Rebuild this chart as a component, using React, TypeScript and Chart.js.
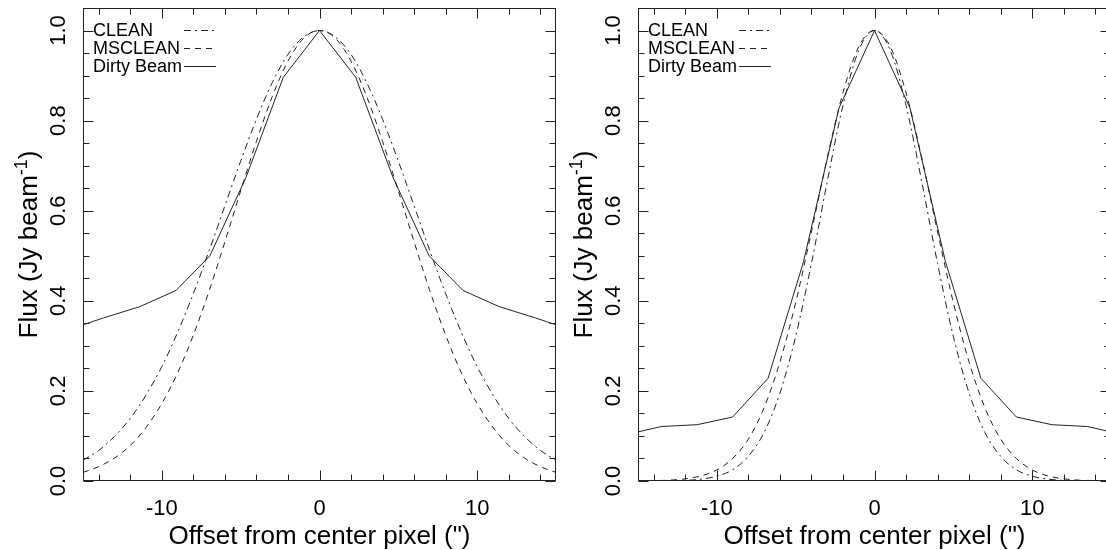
import React, { useEffect, useRef } from 'react';
import { Chart, registerables } from 'chart.js';

Chart.register(...registerables);

// ---------- data ----------
const offsets = [-15, -14, -13, -12, -11, -10, -9, -8, -7, -6, -5, -4, -3, -2, -1, 0, 1, 2, 3, 4, 5, 6, 7, 8, 9, 10, 11, 12, 13, 14, 15];

// left panel
const leftClean = [0.046, 0.068, 0.099, 0.139, 0.191, 0.254, 0.330, 0.416, 0.511, 0.611, 0.710, 0.803, 0.884, 0.947, 0.986, 1.0, 0.986, 0.947, 0.884, 0.803, 0.710, 0.611, 0.511, 0.416, 0.330, 0.254, 0.191, 0.139, 0.099, 0.068, 0.046];
const leftMsclean = [0.019, 0.032, 0.051, 0.079, 0.119, 0.172, 0.240, 0.324, 0.422, 0.531, 0.644, 0.754, 0.853, 0.932, 0.983, 1.0, 0.983, 0.932, 0.853, 0.754, 0.644, 0.531, 0.422, 0.324, 0.240, 0.172, 0.119, 0.079, 0.051, 0.032, 0.019];
const leftDirtyOffsets = [-16, -13.7, -11.4, -9.1, -6.95, -4.65, -2.3, 0, 2.3, 4.65, 6.95, 9.1, 11.4, 13.7, 16];
const leftDirty = [0.335, 0.362, 0.387, 0.423, 0.50, 0.675, 0.896, 1.0, 0.896, 0.675, 0.50, 0.423, 0.387, 0.362, 0.335];

// right panel
const rightClean = [0.0, 0.0001, 0.0005, 0.0014, 0.0041, 0.0106, 0.025, 0.055, 0.108, 0.195, 0.321, 0.483, 0.664, 0.834, 0.956, 1.0, 0.956, 0.834, 0.664, 0.483, 0.321, 0.195, 0.108, 0.055, 0.025, 0.0106, 0.0041, 0.0014, 0.0005, 0.0001, 0.0];
const rightMsclean = [0.0002, 0.0007, 0.0019, 0.0048, 0.0113, 0.0246, 0.050, 0.093, 0.163, 0.264, 0.396, 0.553, 0.717, 0.862, 0.964, 1.0, 0.964, 0.862, 0.717, 0.553, 0.396, 0.264, 0.163, 0.093, 0.050, 0.0246, 0.0113, 0.0048, 0.0019, 0.0007, 0.0002];
const rightDirtyOffsets = [-15.75, -13.5, -11.25, -9, -6.75, -4.5, -2.25, 0, 2.25, 4.5, 6.75, 9, 11.25, 13.5, 15.75];
const rightDirty = [0.103, 0.121, 0.125, 0.142, 0.228, 0.487, 0.828, 1.0, 0.828, 0.487, 0.228, 0.142, 0.125, 0.121, 0.103];

// axes
const xMajorTicks = [-10, 0, 10];
const xMinorTicks = [-14, -12, -8, -6, -4, -2, 2, 4, 6, 8, 12, 14];
const yMajorTicks = [0, 0.2, 0.4, 0.6, 0.8, 1.0];
const yMinorTicks = [0.05, 0.1, 0.15, 0.25, 0.3, 0.35, 0.45, 0.5, 0.55, 0.65, 0.7, 0.75, 0.85, 0.9, 0.95];
const yTickLabels = ['0.0', '0.2', '0.4', '0.6', '0.8', '1.0'];
const xTickLabels = ['-10', '0', '10'];
const xTitle = 'Offset from center pixel (")';
const yTitleMain = 'Flux (Jy beam';
const yTitleSup = '-1';
const yTitleEnd = ')';
const seriesNames = ['CLEAN', 'MSCLEAN', 'Dirty Beam'];

const FONT = '"Liberation Sans", Arial, Helvetica, sans-serif';
const INK = '#222';

const framePlugin = {
  id: 'rframe',
  afterDatasetsDraw(chart: any) {
    const { ctx, chartArea: a, scales } = chart;
    const xs = scales.x;
    const ys = scales.y;
    ctx.save();
    ctx.strokeStyle = INK;
    ctx.lineWidth = 1;
    ctx.setLineDash([]);
    const L = Math.round(a.left) + 0.5;
    const R = Math.round(a.right) - 0.5;
    const T = Math.round(a.top) + 0.5;
    const B = Math.round(a.bottom) - 0.5;
    ctx.strokeRect(L, T, R - L, B - T);

    const tick = (x1: number, y1: number, x2: number, y2: number) => {
      ctx.beginPath();
      ctx.moveTo(x1, y1);
      ctx.lineTo(x2, y2);
      ctx.stroke();
    };
    const MAJ = 10;
    const MIN = 6;
    const px = (v: number) => Math.round(xs.getPixelForValue(v)) + 0.5;
    const py = (v: number) => Math.round(ys.getPixelForValue(v)) + 0.5;
    xMajorTicks.forEach((v) => { const p = px(v); tick(p, B, p, B - MAJ); tick(p, T, p, T + MAJ); });
    xMinorTicks.forEach((v) => { const p = px(v); tick(p, B, p, B - MIN); tick(p, T, p, T + MIN); });
    yMajorTicks.forEach((v) => { const p = py(v); tick(L, p, L + MAJ, p); tick(R, p, R - MAJ, p); });
    yMinorTicks.forEach((v) => { const p = py(v); tick(L, p, L + MIN, p); tick(R, p, R - MIN, p); });

    ctx.fillStyle = '#000';
    // x tick labels
    ctx.font = `22px ${FONT}`;
    ctx.textAlign = 'center';
    ctx.textBaseline = 'alphabetic';
    xMajorTicks.forEach((v, i) => ctx.fillText(xTickLabels[i], xs.getPixelForValue(v), a.bottom + 34));
    // y tick labels (rotated)
    yMajorTicks.forEach((v, i) => {
      ctx.save();
      ctx.translate(a.left - 18, ys.getPixelForValue(v));
      ctx.rotate(-Math.PI / 2);
      ctx.fillText(yTickLabels[i], 0, 0);
      ctx.restore();
    });
    // x title
    ctx.font = `26px ${FONT}`;
    ctx.fillText(xTitle, (a.left + a.right) / 2, a.bottom + 63);
    // y title with superscript
    ctx.save();
    ctx.translate(a.left - 46, (a.top + a.bottom) / 2);
    ctx.rotate(-Math.PI / 2);
    ctx.textAlign = 'left';
    ctx.font = `26px ${FONT}`;
    const w1 = ctx.measureText(yTitleMain).width;
    const w3 = ctx.measureText(yTitleEnd).width;
    ctx.font = `18px ${FONT}`;
    const w2 = ctx.measureText(yTitleSup).width;
    const start = -(w1 + w2 + w3) / 2;
    ctx.font = `26px ${FONT}`;
    ctx.fillText(yTitleMain, start, 0);
    ctx.font = `18px ${FONT}`;
    ctx.fillText(yTitleSup, start + w1, -10);
    ctx.font = `26px ${FONT}`;
    ctx.fillText(yTitleEnd, start + w1 + w2, 0);
    ctx.restore();

    // legend
    ctx.font = `18px ${FONT}`;
    ctx.textAlign = 'left';
    chart.data.datasets.forEach((ds: any, i: number) => {
      const base = a.top + 28 + i * 18.2;
      ctx.fillText(ds.label, a.left + 10, base);
      ctx.save();
      ctx.setLineDash(ds.borderDash || []);
      ctx.strokeStyle = INK;
      const ly = Math.round(base - 6.5) + 0.5;
      tick(a.left + 101, ly, a.left + 133, ly);
      ctx.restore();
    });
    ctx.restore();
  },
};

type PanelProps = { clean: number[]; msclean: number[]; dirtyX: number[]; dirty: number[]; left: number };

function Panel({ clean, msclean, dirtyX, dirty, left }: PanelProps) {
  const ref = useRef<HTMLCanvasElement>(null);
  useEffect(() => {
    const common = { borderColor: INK, borderWidth: 1, pointRadius: 0, fill: false };
    const chart = new Chart(ref.current as HTMLCanvasElement, {
      type: 'line',
      data: {
        datasets: [
          { ...common, label: seriesNames[0], data: offsets.map((x, i) => ({ x, y: clean[i] })), borderDash: [7, 4, 2, 4], cubicInterpolationMode: 'monotone' },
          { ...common, label: seriesNames[1], data: offsets.map((x, i) => ({ x, y: msclean[i] })), borderDash: [6, 5], cubicInterpolationMode: 'monotone' },
          { ...common, label: seriesNames[2], data: dirtyX.map((x, i) => ({ x, y: dirty[i] })), borderDash: [], tension: 0 },
        ],
      } as any,
      options: {
        responsive: false,
        animation: false,
        devicePixelRatio: 1,
        events: [],
        layout: { padding: { left: 0, top: 8, right: 24, bottom: 0 } },
        plugins: { legend: { display: false }, tooltip: { enabled: false } },
        scales: {
          x: {
            type: 'linear', min: -15, max: 15,
            grid: { display: false }, border: { display: false }, ticks: { display: false },
            afterFit: (s: any) => { s.height = 69; },
          },
          y: {
            type: 'linear', min: 0, max: 1.05,
            grid: { display: false }, border: { display: false }, ticks: { display: false },
            afterFit: (s: any) => { s.width = 83; },
          },
        },
      } as any,
      plugins: [framePlugin],
    });
    return () => chart.destroy();
  }, []);
  return (
    <canvas
      ref={ref}
      width={580}
      height={550}
      style={{ position: 'absolute', left, top: 0, width: 580, height: 550, display: 'block' }}
    />
  );
}

export default function App() {
  return (
    <div style={{ position: 'fixed', left: 0, top: 0, width: 1106, height: 550, overflow: 'hidden', background: '#fff' }}>
      <Panel clean={leftClean} msclean={leftMsclean} dirtyX={leftDirtyOffsets} dirty={leftDirty} left={0} />
      <Panel clean={rightClean} msclean={rightMsclean} dirtyX={rightDirtyOffsets} dirty={rightDirty} left={555} />
    </div>
  );
}
